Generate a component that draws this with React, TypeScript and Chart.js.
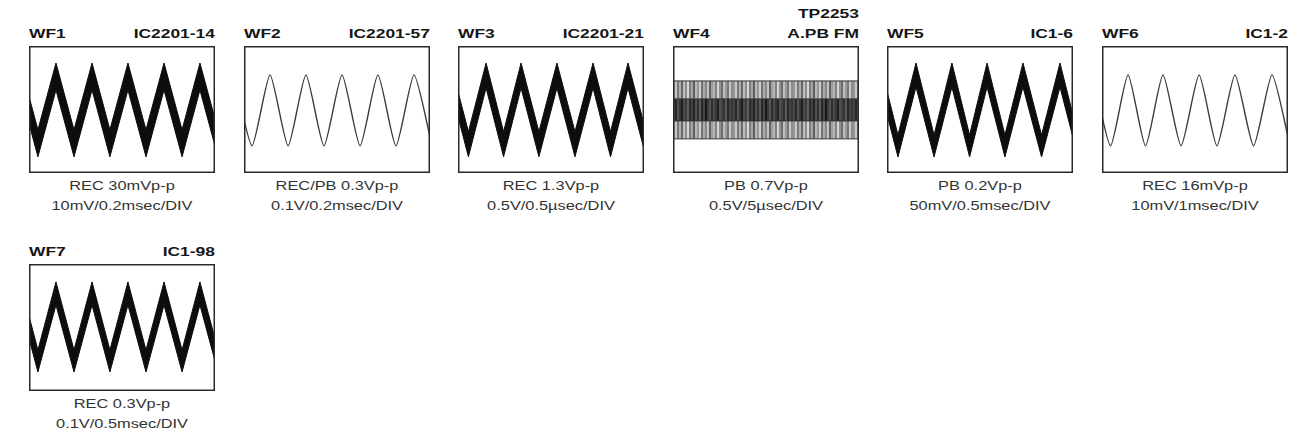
import React, { useEffect, useRef } from "react";
import { Chart, registerables } from "chart.js";

Chart.register(...registerables);

// ---------- data (oscilloscope screen: 10 div wide, -4..+4 div tall) ----------
const panelIds = ["WF1", "WF2", "WF3", "WF4", "WF5", "WF6", "WF7"];
const panelTestPoints = [
  ["IC2201-14"],
  ["IC2201-57"],
  ["IC2201-21"],
  ["TP2253", "A.PB FM"],
  ["IC1-6"],
  ["IC1-2"],
  ["IC1-98"],
];
const captionLevels = [
  "REC 30mVp-p",
  "REC/PB 0.3Vp-p",
  "REC 1.3Vp-p",
  "PB 0.7Vp-p",
  "PB 0.2Vp-p",
  "REC 16mVp-p",
  "REC 0.3Vp-p",
];
const captionScales = [
  "10mV/0.2msec/DIV",
  "0.1V/0.2msec/DIV",
  "0.5V/0.5µsec/DIV",
  "0.5V/5µsec/DIV",
  "50mV/0.5msec/DIV",
  "10mV/1msec/DIV",
  "0.1V/0.5msec/DIV",
];

// WF1 (thick trace: upper and lower edge of the trace)
const wf1Time = [-0.48, 0.48, 1.45, 2.42, 3.39, 4.35, 5.32, 6.29, 7.26, 8.23, 9.19, 10.16];
const wf1Upper = [2.93, -1.28, 2.93, -1.28, 2.93, -1.28, 2.93, -1.28, 2.93, -1.28, 2.93, -1.28];
const wf1Lower = [1.23, -2.98, 1.23, -2.98, 1.23, -2.98, 1.23, -2.98, 1.23, -2.98, 1.23, -2.98];

// WF2 (thin trace)
const wf2Time = [-0.54, 0.43, 1.4, 2.37, 3.33, 4.3, 5.27, 6.24, 7.2, 8.17, 9.14, 10.11];
const wf2Values = [2.18, -2.29, 2.18, -2.29, 2.18, -2.29, 2.18, -2.29, 2.18, -2.29, 2.18, -2.29];

// WF3 (thick trace)
const wf3Time = [-0.4, 0.56, 1.51, 2.45, 3.39, 4.35, 5.32, 6.29, 7.26, 8.2, 9.14, 10.11];
const wf3Upper = [2.93, -1.4, 2.93, -1.4, 2.93, -1.4, 2.93, -1.4, 2.93, -1.4, 2.93, -1.4];
const wf3Lower = [1.36, -2.98, 1.36, -2.98, 1.36, -2.98, 1.36, -2.98, 1.36, -2.98, 1.36, -2.98];

// WF4 (FM envelope band: outer top, inner top, inner bottom, outer bottom)
const wf4Time = [0, 10];
const wf4OuterTop = [1.8, 1.8];
const wf4InnerTop = [0.67, 0.67];
const wf4InnerBottom = [-0.72, -0.72];
const wf4OuterBottom = [-1.85, -1.85];

// WF5 (thick trace)
const wf5Time = [-0.38, 0.59, 1.56, 2.53, 3.49, 4.44, 5.38, 6.34, 7.31, 8.31, 9.3, 10.27];
const wf5Upper = [2.93, -1.61, 2.93, -1.61, 2.93, -1.61, 2.93, -1.61, 2.93, -1.61, 2.93, -1.61];
const wf5Lower = [1.42, -2.99, 1.42, -2.99, 1.42, -2.99, 1.42, -2.99, 1.42, -2.99, 1.42, -2.99];

// WF6 (thin trace)
const wf6Time = [-0.48, 0.46, 1.4, 2.34, 3.28, 4.25, 5.22, 6.18, 7.15, 8.15, 9.14, 10.11];
const wf6Values = [2.18, -2.29, 2.18, -2.29, 2.18, -2.29, 2.18, -2.29, 2.18, -2.29, 2.18, -2.29];

// WF7 (thick trace)
const wf7Time = [-0.48, 0.48, 1.45, 2.42, 3.39, 4.35, 5.32, 6.29, 7.26, 8.23, 9.19, 10.16];
const wf7Upper = [2.87, -1.42, 2.87, -1.42, 2.87, -1.42, 2.87, -1.42, 2.87, -1.42, 2.87, -1.42];
const wf7Lower = [1.42, -2.8, 1.42, -2.8, 1.42, -2.8, 1.42, -2.8, 1.42, -2.8, 1.42, -2.8];

type Wave =
  | { kind: "band"; time: number[]; upper: number[]; lower: number[] }
  | { kind: "line"; time: number[]; values: number[] }
  | { kind: "fm"; time: number[]; levels: number[][] };

const waves: Wave[] = [
  { kind: "band", time: wf1Time, upper: wf1Upper, lower: wf1Lower },
  { kind: "line", time: wf2Time, values: wf2Values },
  { kind: "band", time: wf3Time, upper: wf3Upper, lower: wf3Lower },
  { kind: "fm", time: wf4Time, levels: [wf4OuterTop, wf4InnerTop, wf4InnerBottom, wf4OuterBottom] },
  { kind: "band", time: wf5Time, upper: wf5Upper, lower: wf5Lower },
  { kind: "line", time: wf6Time, values: wf6Values },
  { kind: "band", time: wf7Time, upper: wf7Upper, lower: wf7Lower },
];

// ---------- layout / style ----------
const BOX_W = 186;
const BOX_H = 127;
const COL_STEP = 214.6;
const ROW_STEP = 218;
const ORIGIN_X = 29;
const ORIGIN_Y = 46;
const FONT = '"Liberation Sans", Arial, Helvetica, sans-serif';
const TITLE_STRETCH = 1.34;
const CAP_STRETCH = 1.3;

const outerShades = [150, 200, 120, 175, 105, 190, 140, 215, 125, 165, 95, 185, 150, 205, 115, 170, 135, 195, 100, 160, 180, 130, 210, 145, 110, 190, 155, 120, 200, 140];
const innerShades = [70, 40, 85, 55, 30, 75, 60, 95, 45, 65, 35, 80, 50, 90, 40, 70, 25, 60, 85, 45, 75, 55, 35, 80, 65, 50, 90, 40, 70, 55];

function makeStripes(shades: number[], ctxForPattern: CanvasRenderingContext2D) {
  const c = document.createElement("canvas");
  c.width = shades.length * 2;
  c.height = 4;
  const g = c.getContext("2d")!;
  shades.forEach((s, i) => {
    g.fillStyle = `rgb(${s},${s},${s})`;
    g.fillRect(i * 2, 0, 2, 4);
  });
  return ctxForPattern.createPattern(c, "repeat")!;
}

const framePlugin = {
  id: "scopeFrame",
  afterDraw(chart: any) {
    const { ctx, chartArea: a } = chart;
    ctx.save();
    ctx.strokeStyle = "#2a2a2a";
    ctx.lineWidth = 1.5;
    ctx.strokeRect(a.left + 0.75, a.top + 0.75, a.right - a.left - 1.5, a.bottom - a.top - 1.5);
    ctx.restore();
  },
};

function pts(time: number[], vals: number[]) {
  return time.map((t, i) => ({ x: t, y: vals[i] }));
}

function buildDatasets(w: Wave, ctx: CanvasRenderingContext2D): any[] {
  if (w.kind === "band") {
    return [
      { data: pts(w.time, w.upper), borderColor: "#0d0d0d", borderWidth: 1, pointRadius: 0, tension: 0, fill: false },
      { data: pts(w.time, w.lower), borderColor: "#0d0d0d", borderWidth: 1, pointRadius: 0, tension: 0, fill: "-1", backgroundColor: "#0d0d0d" },
    ];
  }
  if (w.kind === "line") {
    return [
      { data: pts(w.time, w.values), borderColor: "#3a3a3a", borderWidth: 1.4, pointRadius: 0, tension: 0.2, fill: false },
    ];
  }
  const outer = makeStripes(outerShades, ctx);
  const inner = makeStripes(innerShades, ctx);
  const fills = [false, "-1", "-1", "-1"];
  const bgs = ["transparent", outer, inner, outer];
  return w.levels.map((lv, i) => ({
    data: pts(w.time, lv),
    borderColor: "#333",
    borderWidth: 1,
    pointRadius: 0,
    tension: 0,
    fill: fills[i],
    backgroundColor: bgs[i],
  }));
}

function Panel({ index }: { index: number }) {
  const ref = useRef<HTMLCanvasElement>(null);
  useEffect(() => {
    const canvas = ref.current!;
    const ctx = canvas.getContext("2d")!;
    const chart = new Chart(canvas, {
      type: "line",
      data: { datasets: buildDatasets(waves[index], ctx) },
      options: {
        animation: false,
        responsive: true,
        maintainAspectRatio: false,
        layout: { padding: 0 },
        plugins: { legend: { display: false }, tooltip: { enabled: false }, title: { display: false } },
        events: [],
        scales: {
          x: { type: "linear", min: 0, max: 10, display: false },
          y: { type: "linear", min: -4, max: 4, display: false },
        },
      },
      plugins: [framePlugin],
    } as any);
    return () => chart.destroy();
  }, [index]);

  const col = index % 6;
  const row = Math.floor(index / 6);
  const left = ORIGIN_X + col * COL_STEP;
  const top = ORIGIN_Y + row * ROW_STEP;
  const right = left + BOX_W;
  const tps = panelTestPoints[index];

  const titleStyle: React.CSSProperties = {
    position: "absolute",
    font: `bold 13px ${FONT}`,
    lineHeight: "13px",
    color: "#161616",
    whiteSpace: "nowrap",
  };
  const capStyle: React.CSSProperties = {
    position: "absolute",
    font: `12.6px ${FONT}`,
    lineHeight: "13px",
    color: "#333",
    whiteSpace: "nowrap",
    width: 300,
    left: left + BOX_W / 2 - 150,
    textAlign: "center",
    transform: `scaleX(${CAP_STRETCH})`,
    transformOrigin: "center",
  };

  return (
    <>
      <div style={{ ...titleStyle, left, top: top - 19, transform: `scaleX(${TITLE_STRETCH})`, transformOrigin: "left" }}>
        {panelIds[index]}
      </div>
      {tps.map((t, i) => (
        <div
          key={t}
          style={{
            ...titleStyle,
            left: right - 300,
            width: 300,
            textAlign: "right",
            top: top - 19 - (tps.length - 1 - i) * 20,
            transform: `scaleX(${TITLE_STRETCH})`,
            transformOrigin: "right",
          }}
        >
          {t}
        </div>
      ))}
      <div style={{ position: "absolute", left, top, width: BOX_W, height: BOX_H }}>
        <canvas ref={ref} />
      </div>
      <div style={{ ...capStyle, top: top + BOX_H + 7 }}>{captionLevels[index]}</div>
      <div style={{ ...capStyle, top: top + BOX_H + 27 }}>{captionScales[index]}</div>
    </>
  );
}

export default function App() {
  return (
    <div style={{ position: "absolute", left: 0, top: 0, width: 1304, height: 440, background: "#fff" }}>
      {panelIds.map((_, i) => (
        <Panel key={i} index={i} />
      ))}
    </div>
  );
}
